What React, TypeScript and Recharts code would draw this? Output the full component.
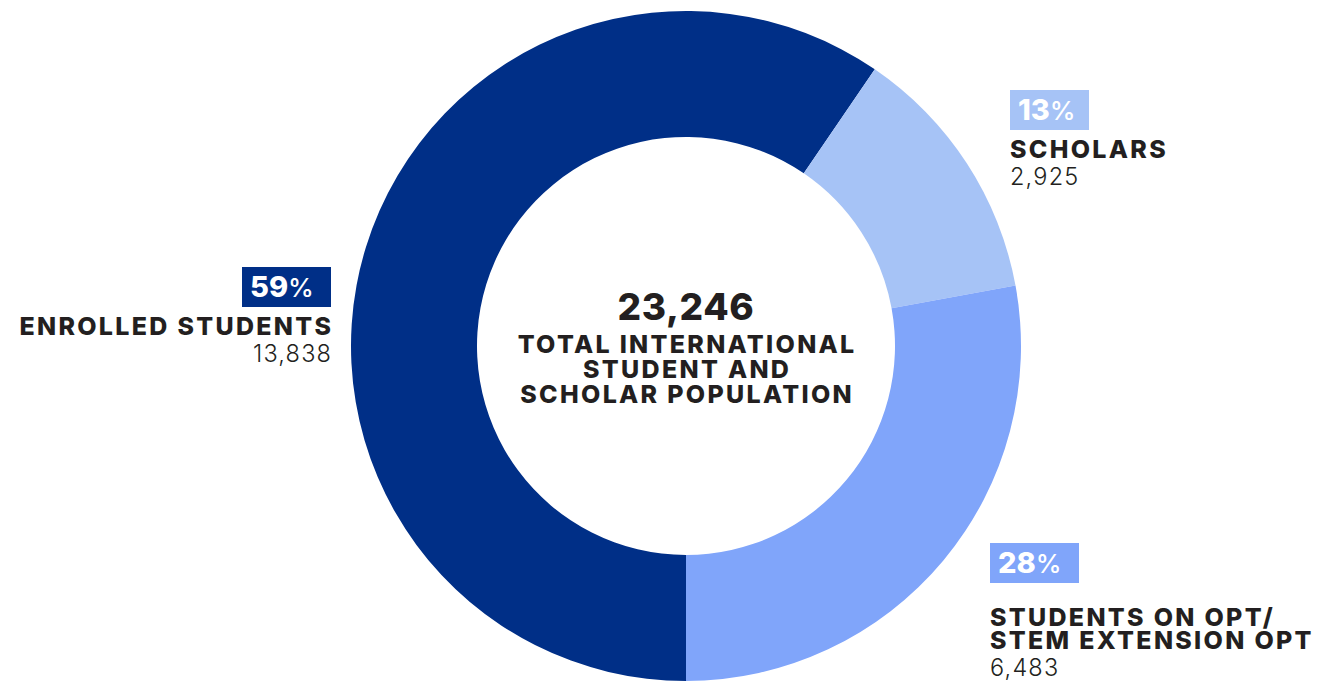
import { PieChart, Pie, Cell } from "recharts";

// population by status
const CATEGORIES = ["ENROLLED STUDENTS", "SCHOLARS", "STUDENTS ON OPT/ STEM EXTENSION OPT"];
const NAME_LINES = [["ENROLLED STUDENTS"], ["SCHOLARS"], ["STUDENTS ON OPT/", "STEM EXTENSION OPT"]];
const COUNTS = [13838, 2925, 6483];
const PERCENTS = [59, 13, 28];
const CENTER_LINES = ["TOTAL INTERNATIONAL", "STUDENT AND", "SCHOLAR POPULATION"];

const COLORS = ["#002F87", "#A6C3F6", "#80A5FA"];
const INK = "#231F20";
const FONT = "Inter, 'Noto Sans', sans-serif";
const CAPS_SPACING = 2.3;

// where each callout sits (anchor x, top of the % box, box width)
const CALLOUTS = [
  { x: 331, anchor: "end", boxTop: 267, boxW: 89 },
  { x: 1010, anchor: "start", boxTop: 90, boxW: 79 },
  { x: 990, anchor: "start", boxTop: 543, boxW: 89 },
];

const data = CATEGORIES.map((name, i) => ({ name, value: COUNTS[i] }));
const total = COUNTS.reduce((a, b) => a + b, 0);
const fmtNum = (n: number) => n.toLocaleString("en-US");

const renderLabel = (props: any) => {
  const i = props.index;
  const c = CALLOUTS[i];
  const isEnd = c.anchor === "end";
  const boxX = isEnd ? c.x - c.boxW : c.x;
  const lines = NAME_LINES[i];
  const nameBase = c.boxTop + 68 + (lines.length > 1 ? 15 : 0);
  return (
    <g key={`lbl-${i}`}>
      <rect x={boxX} y={c.boxTop} width={c.boxW} height={40} fill={COLORS[i]} />
      <text x={boxX + 8} y={c.boxTop + 30} fill="#fff" fontFamily={FONT} textAnchor="start">
        <tspan fontSize={29} fontWeight={800}>{PERCENTS[i]}</tspan>
        <tspan fontSize={26} fontWeight={500}>%</tspan>
      </text>
      {lines.map((ln, k) => (
        <text
          key={k}
          x={isEnd ? c.x + CAPS_SPACING : c.x}
          y={nameBase + k * 23}
          textAnchor={c.anchor}
          fill={INK}
          fontFamily={FONT}
          fontWeight={800}
          fontSize={25}
          letterSpacing={CAPS_SPACING}
        >
          {ln}
        </text>
      ))}
      <text
        x={isEnd ? c.x + 1.2 : c.x}
        y={nameBase + (lines.length - 1) * 23 + 27}
        textAnchor={c.anchor}
        fill={INK}
        fontFamily={FONT}
        fontWeight={300}
        fontSize={23.5}
        letterSpacing={1.2}
      >
        {fmtNum(COUNTS[i])}
      </text>
    </g>
  );
};

export default function App() {
  return (
    <div style={{ width: 1327, height: 683, background: "#fff" }}>
      <style>{"body{margin:0}"}</style>
      <PieChart width={1327} height={683} margin={{ top: 0, right: 0, bottom: 0, left: 0 }}>
        <Pie
          data={data}
          dataKey="value"
          nameKey="name"
          cx={686}
          cy={346}
          innerRadius={209}
          outerRadius={335}
          startAngle={-90}
          endAngle={-450}
          stroke="none"
          label={renderLabel}
          labelLine={false}
          isAnimationActive={false}
        >
          {data.map((d, i) => (
            <Cell key={d.name} fill={COLORS[i]} />
          ))}
        </Pie>
        <text
          x={686}
          y={320}
          textAnchor="middle"
          fill={INK}
          fontFamily={FONT}
          fontWeight={800}
          fontSize={37}
          letterSpacing={0.6}
        >
          {fmtNum(total)}
        </text>
        {CENTER_LINES.map((ln, k) => (
          <text
            key={ln}
            x={686 + CAPS_SPACING / 2}
            y={353 + k * 25}
            textAnchor="middle"
            fill={INK}
            fontFamily={FONT}
            fontWeight={800}
            fontSize={25}
            letterSpacing={CAPS_SPACING}
          >
            {ln}
          </text>
        ))}
      </PieChart>
    </div>
  );
}
